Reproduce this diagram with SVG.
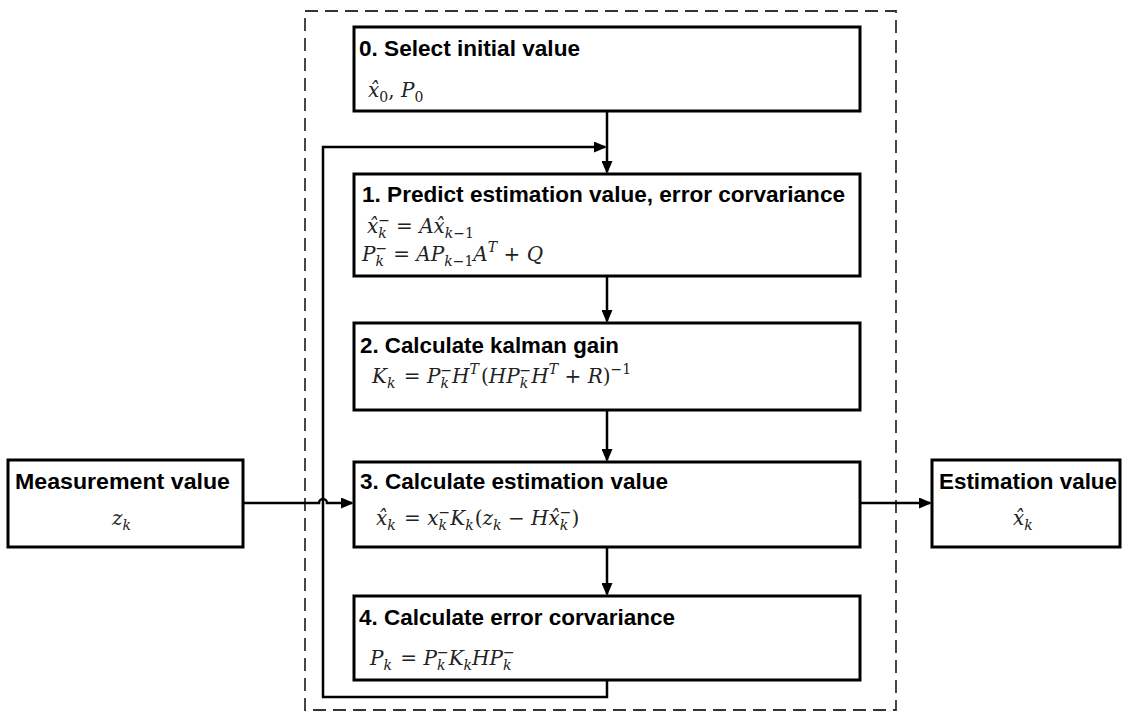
<svg xmlns="http://www.w3.org/2000/svg" width="1124" height="713" viewBox="0 0 1124 713">
<style>
.box{fill:#fff;stroke:#000;stroke-width:3}
.t{font-family:"Liberation Sans",Arial,sans-serif;font-weight:bold;font-size:21.5px;fill:#000}
.m{font-family:"DejaVu Serif","Liberation Serif",serif;font-size:20px;font-style:italic;fill:#222}
.u{font-style:normal}
.s{font-size:14px}
.c{fill:none;stroke:#000;stroke-width:2.5}
</style>
<defs>
<marker id="ah" markerWidth="13" markerHeight="11" refX="11" refY="5.5" orient="auto" markerUnits="userSpaceOnUse"><path d="M0,0 L13,5.5 L0,11 z" fill="#000"/></marker>
</defs>
<rect x="305" y="11" width="591" height="699" fill="none" stroke="#333" stroke-width="1.8" stroke-dasharray="13 7"/>
<g id="connectors">
<path class="c" d="M607,111 V172" marker-end="url(#ah)"/>
<path class="c" d="M607,680 V697 H323 V147 H605" marker-end="url(#ah)"/>
<path class="c" d="M607,276 V321" marker-end="url(#ah)"/>
<path class="c" d="M607,410 V460" marker-end="url(#ah)"/>
<path class="c" d="M607,547 V594" marker-end="url(#ah)"/>
<path class="c" d="M243,503 H319 A4,4 0 0 1 327,503 H352" marker-end="url(#ah)"/>
<path class="c" d="M860,503 H930" marker-end="url(#ah)"/>
</g>
<g id="node0">
<rect class="box" x="354" y="27" width="506" height="84"/>
<text class="t" x="359" y="56" textLength="221" lengthAdjust="spacingAndGlyphs">0. Select initial value</text>
<text class="m" x="368" y="97"><tspan>x̂</tspan><tspan class="s u" dy="5">0</tspan><tspan class="u" dy="-5">, </tspan><tspan>P</tspan><tspan class="s u" dy="5">0</tspan></text>
</g>
<g id="node1">
<rect class="box" x="354" y="174" width="506" height="102"/>
<text class="t" x="362" y="202" textLength="483" lengthAdjust="spacingAndGlyphs">1. Predict estimation value, error corvariance</text>
<text class="m" x="367" y="233"><tspan>x̂</tspan><tspan class="s" dy="5">k</tspan><tspan class="s u" dx="-8.5" dy="-13">−</tspan><tspan class="u" dy="8" dx="6">= </tspan><tspan>Ax̂</tspan><tspan class="s" dy="5">k</tspan><tspan class="s u">−1</tspan></text>
<text class="m" x="362" y="261"><tspan>P</tspan><tspan class="s" dy="5">k</tspan><tspan class="s u" dx="-8.5" dy="-13">−</tspan><tspan class="u" dy="8" dx="6">= </tspan><tspan>AP</tspan><tspan class="s" dy="5">k</tspan><tspan class="s u">−1</tspan><tspan dy="-5">A</tspan><tspan class="s" dy="-9">T</tspan><tspan class="u" dy="9"> + </tspan><tspan>Q</tspan></text>
</g>
<g id="node2">
<rect class="box" x="354" y="323" width="506" height="87"/>
<text class="t" x="360" y="353" textLength="259" lengthAdjust="spacingAndGlyphs">2. Calculate kalman gain</text>
<text class="m" x="372" y="383"><tspan>K</tspan><tspan class="s" dy="5">k</tspan><tspan class="u" dy="-5" dx="2"> = </tspan><tspan>P</tspan><tspan class="s" dy="5">k</tspan><tspan class="s u" dx="-8.5" dy="-13">−</tspan><tspan dy="8">H</tspan><tspan class="s" dy="-9">T</tspan><tspan class="u" dy="9" dx="2">(</tspan><tspan>HP</tspan><tspan class="s" dy="5">k</tspan><tspan class="s u" dx="-8.5" dy="-13">−</tspan><tspan dy="8">H</tspan><tspan class="s" dy="-9">T</tspan><tspan class="u" dy="9"> + </tspan><tspan>R</tspan><tspan class="u">)</tspan><tspan class="s u" dy="-9">−1</tspan></text>
</g>
<g id="node3">
<rect class="box" x="354" y="462" width="506" height="85"/>
<text class="t" x="360" y="489" textLength="308" lengthAdjust="spacingAndGlyphs">3. Calculate estimation value</text>
<text class="m" x="376" y="525"><tspan>x̂</tspan><tspan class="s" dy="5">k</tspan><tspan class="u" dy="-5" dx="2"> = </tspan><tspan>x</tspan><tspan class="s" dy="5">k</tspan><tspan class="s u" dx="-8.5" dy="-13">−</tspan><tspan dy="8">K</tspan><tspan class="s" dy="5">k</tspan><tspan class="u" dy="-5" dx="1">(</tspan><tspan>z</tspan><tspan class="s" dy="5">k</tspan><tspan class="u" dy="-5"> − </tspan><tspan>Hx̂</tspan><tspan class="s" dy="5">k</tspan><tspan class="s u" dx="-8.5" dy="-13">−</tspan><tspan class="u" dy="8">)</tspan></text>
</g>
<g id="node4">
<rect class="box" x="354" y="596" width="506" height="84"/>
<text class="t" x="359" y="625" textLength="316" lengthAdjust="spacingAndGlyphs">4. Calculate error corvariance</text>
<text class="m" x="370" y="665"><tspan>P</tspan><tspan class="s" dy="5">k</tspan><tspan class="u" dy="-5" dx="2"> = </tspan><tspan>P</tspan><tspan class="s" dy="5">k</tspan><tspan class="s u" dx="-8.5" dy="-13">−</tspan><tspan dy="8">K</tspan><tspan class="s" dy="5">k</tspan><tspan dy="-5">HP</tspan><tspan class="s" dy="5">k</tspan><tspan class="s u" dx="-8.5" dy="-13">−</tspan></text>
</g>
<g id="measurement">
<rect class="box" x="8" y="460" width="235" height="87"/>
<text class="t" x="15" y="489" textLength="215" lengthAdjust="spacingAndGlyphs">Measurement value</text>
<text class="m" x="112" y="525"><tspan>z</tspan><tspan class="s" dy="5">k</tspan></text>
</g>
<g id="estimation">
<rect class="box" x="932" y="460" width="188" height="87"/>
<text class="t" x="939" y="489" textLength="178" lengthAdjust="spacingAndGlyphs">Estimation value</text>
<text class="m" x="1013" y="525"><tspan>x̂</tspan><tspan class="s" dy="5">k</tspan></text>
</g>
</svg>
